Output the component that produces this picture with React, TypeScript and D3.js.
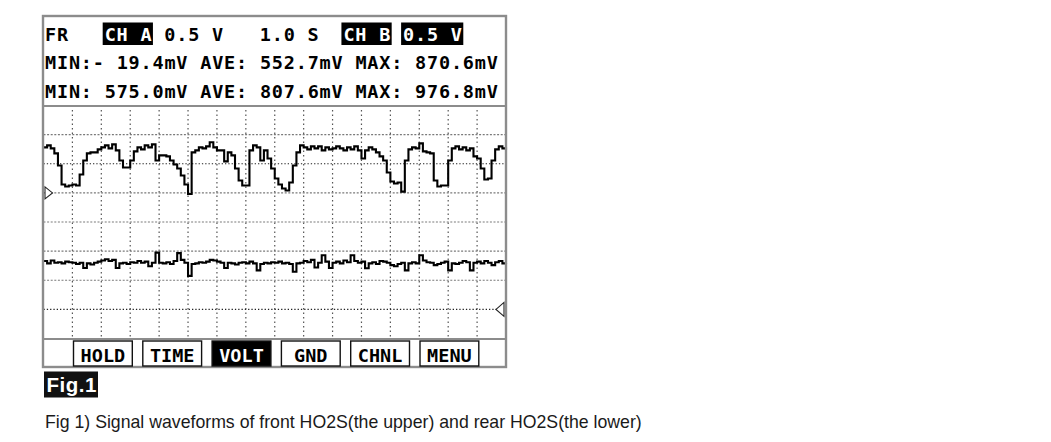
import React from "react";
import * as d3 from "d3";

// ---- Text content ----
const HEADER_ROWS = [
  "FR   CH A 0.5 V   1.0 S  CH B 0.5 V",
  "MIN:- 19.4mV AVE: 552.7mV MAX: 870.6mV",
  "MIN: 575.0mV AVE: 807.6mV MAX: 976.8mV",
];
// highlighted (inverted) segments of row 1: [start char, length]
const HIGHLIGHTS: [number, number][] = [
  [5, 4],
  [25, 4],
  [30, 5],
];
const BUTTONS = ["HOLD", "TIME", "VOLT", "GND", "CHNL", "MENU"];
const ACTIVE_BUTTON = "VOLT";
const FIG_LABEL = "Fig.1";
const CAPTION =
  "Fig 1) Signal waveforms of front HO2S(the upper) and rear HO2S(the lower)";

// ---- Scope settings ----
const TIME_PER_DIV_S = 1.0;
const DIVS_X = 16;
const DIVS_Y = 8;
const MV_PER_DIV = 500;
const CH_A_GROUND_DIV = 3; // divisions from the top
const CH_B_GROUND_DIV = 7;
const SAMPLE_S = 0.125;

// ---- Channel A (front HO2S), mV ----
const CH_A_MV = [
  781, 815, 764, 678, 470, 143, 109, 126, 143, 126, 315, 557, 678, 695, 695, 746,
  781, 815, 764, 833, 729, 557, 436, 436, 557, 712, 781, 746, 815, 781, 833, 557,
  643, 643, 626, 557, 488, 419, 298, 143, -19, 695, 729, 781, 764, 798, 870, 781,
  729, 729, 540, 695, 643, 419, 212, 126, 126, 729, 815, 781, 557, 729, 591, 419,
  247, 143, 74, 40, 178, 470, 695, 815, 781, 746, 798, 764, 798, 729, 781, 746,
  764, 798, 764, 729, 781, 746, 798, 729, 591, 729, 781, 746, 695, 626, 557, 350,
  195, 160, 178, 22, 557, 746, 781, 764, 850, 712, 695, 678, 212, 109, 126, 126,
  557, 764, 798, 746, 781, 729, 764, 626, 591, 419, 229, 247, 557, 746, 798, 764,
  729,
];

// ---- Channel B (rear HO2S), mV ----
const CH_B_MV = [
  830, 790, 840, 800, 810, 790, 820, 810, 800, 780, 800, 710, 790, 770, 800, 820,
  840, 860, 830, 850, 710, 790, 800, 780, 810, 800, 830, 800, 820, 740, 800, 975,
  800, 790, 810, 780, 830, 965, 850, 800, 575, 780, 790, 810, 800, 820, 850, 840,
  820, 800, 710, 800, 790, 770, 800, 810, 790, 820, 790, 670, 780, 800, 790, 810,
  800, 820, 790, 800, 780, 645, 790, 800, 830, 810, 850, 720, 800, 930, 820, 710,
  800, 820, 790, 840, 810, 930, 830, 800, 820, 705, 790, 810, 780, 830, 820, 800,
  760, 740, 780, 800, 670, 790, 810, 790, 930, 840, 810, 800, 760, 780, 800, 820,
  670, 790, 780, 800, 830, 810, 670, 800, 820, 790, 830, 800, 760, 810, 830, 790,
  800,
];

// ---- Layout ----
const W = 1051;
const H = 442;
const FRAME = { left: 43, right: 506, top: 16, bottom: 367 };
const PLOT = { left: 43.5, right: 506, top: 105.5, bottom: 338.5 };
const HEADER_X = 45;
const HEADER_BASELINES = [41, 69, 97.5];
const HDR_FONT = 18.5;
const HDR_LS = 0.8;
const CW = HDR_FONT * 0.602 + HDR_LS;
const MONO = "'DejaVu Sans Mono', 'Liberation Mono', monospace";
const SANS = "'Liberation Sans', Arial, sans-serif";

type Seg = { start: number; text: string; inv: boolean };

function splitRow(row: string, hl: [number, number][]): Seg[] {
  const segs: Seg[] = [];
  let pos = 0;
  const sorted = [...hl].sort((a, b) => a[0] - b[0]);
  for (const [s, n] of sorted) {
    if (s > pos) segs.push({ start: pos, text: row.slice(pos, s), inv: false });
    segs.push({ start: s, text: row.slice(s, s + n), inv: true });
    pos = s + n;
  }
  if (pos < row.length) segs.push({ start: pos, text: row.slice(pos), inv: false });
  return segs;
}

export default function App() {
  const x = d3
    .scaleLinear()
    .domain([0, DIVS_X * TIME_PER_DIV_S])
    .range([PLOT.left, PLOT.right]);
  const yA = d3
    .scaleLinear()
    .domain([
      -(DIVS_Y - CH_A_GROUND_DIV) * MV_PER_DIV,
      CH_A_GROUND_DIV * MV_PER_DIV,
    ])
    .range([PLOT.bottom, PLOT.top]);
  const yB = d3
    .scaleLinear()
    .domain([
      -(DIVS_Y - CH_B_GROUND_DIV) * MV_PER_DIV,
      CH_B_GROUND_DIV * MV_PER_DIV,
    ])
    .range([PLOT.bottom, PLOT.top]);

  const dataA = CH_A_MV.map((v, i) => ({ t: i * SAMPLE_S, v }));
  const dataB = CH_B_MV.map((v, i) => ({ t: i * SAMPLE_S, v }));

  const lineA = d3
    .line<{ t: number; v: number }>()
    .x((d) => x(d.t))
    .y((d) => yA(d.v))
    .curve(d3.curveStepAfter);
  const lineB = d3
    .line<{ t: number; v: number }>()
    .x((d) => x(d.t))
    .y((d) => yB(d.v))
    .curve(d3.curveStepAfter);

  const vTicks = d3.range(1, DIVS_X).map((k) => k * TIME_PER_DIV_S);
  const hDivs = d3.range(1, DIVS_Y);
  const gridY = d3
    .scaleLinear()
    .domain([0, DIVS_Y])
    .range([PLOT.top, PLOT.bottom]);

  const gA = yA(0);
  const gB = yB(0);

  const btnX = d3
    .scaleLinear()
    .domain([0, BUTTONS.length])
    .range([73.5, 73.5 + 69.3 * BUTTONS.length]);
  const btnW = 58.8;

  const row1 = splitRow(HEADER_ROWS[0], HIGHLIGHTS);

  const hdrTextProps = {
    fontFamily: MONO,
    fontWeight: "bold" as const,
    fontSize: HDR_FONT,
    letterSpacing: HDR_LS,
    xmlSpace: "preserve",
    style: { whiteSpace: "pre" as const },
  };

  return (
    <svg
      width={W}
      height={H}
      viewBox={`0 0 ${W} ${H}`}
      style={{ position: "absolute", left: 0, top: 0, background: "#fff" }}
    >
      <rect x={0} y={0} width={W} height={H} fill="#fff" />

      {/* grid */}
      {vTicks.map((t) => (
        <line
          key={"v" + t}
          x1={x(t)}
          x2={x(t)}
          y1={PLOT.top}
          y2={PLOT.bottom}
          stroke="#555"
          strokeWidth={1.2}
          strokeDasharray="1.5 3"
        />
      ))}
      {hDivs.map((k) => {
        const dark = k === 2 || k === 7;
        return (
          <line
            key={"h" + k}
            x1={PLOT.left}
            x2={PLOT.right}
            y1={gridY(k)}
            y2={gridY(k)}
            stroke={dark ? "#222" : "#7a7a7a"}
            strokeWidth={dark ? 1.1 : 1.2}
            strokeDasharray={dark ? "1.3 2" : "2 1.6"}
          />
        );
      })}

      {/* traces */}
      <path d={lineA(dataA) || ""} fill="none" stroke="#000" strokeWidth={2.1} />
      <path d={lineB(dataB) || ""} fill="none" stroke="#000" strokeWidth={2.1} />

      {/* ground markers */}
      <path
        d={`M${PLOT.left + 1.5},${gA - 6} L${PLOT.left + 9},${gA} L${PLOT.left + 1.5},${gA + 6} Z`}
        fill="#fff"
        stroke="#222"
        strokeWidth={1.1}
      />
      <path
        d={`M${PLOT.right - 2},${gB - 7} L${PLOT.right - 10},${gB} L${PLOT.right - 2},${gB + 7} Z`}
        fill="#fff"
        stroke="#222"
        strokeWidth={1.1}
      />

      {/* frame */}
      <line x1={FRAME.left} x2={FRAME.right} y1={106} y2={106} stroke="#8c8c8c" strokeWidth={2} />
      <line x1={FRAME.left} x2={FRAME.right} y1={339} y2={339} stroke="#8c8c8c" strokeWidth={2} />
      <rect
        x={FRAME.left}
        y={FRAME.top}
        width={FRAME.right - FRAME.left}
        height={FRAME.bottom - FRAME.top}
        fill="none"
        stroke="#8c8c8c"
        strokeWidth={2.4}
      />

      {/* header row 1 with inverted segments */}
      {row1.map((seg) => (
        <g key={"r1" + seg.start}>
          {seg.inv && (
            <rect
              x={HEADER_X + seg.start * CW - 2}
              y={22.5}
              width={seg.text.length * CW + 2.5}
              height={22.5}
              fill="#000"
            />
          )}
          <text
            x={HEADER_X + seg.start * CW}
            y={HEADER_BASELINES[0]}
            fill={seg.inv ? "#fff" : "#000"}
            {...hdrTextProps}
          >
            {seg.text}
          </text>
        </g>
      ))}
      {HEADER_ROWS.slice(1).map((row, i) => (
        <text
          key={"row" + i}
          x={HEADER_X}
          y={HEADER_BASELINES[i + 1]}
          fill="#000"
          {...hdrTextProps}
        >
          {row}
        </text>
      ))}

      {/* buttons */}
      {BUTTONS.map((b, i) => {
        const active = b === ACTIVE_BUTTON;
        const bx = btnX(i);
        return (
          <g key={b}>
            <rect
              x={bx}
              y={341}
              width={btnW}
              height={25}
              fill={active ? "#000" : "#fff"}
              stroke="#111"
              strokeWidth={1.4}
            />
            <text
              x={bx + btnW / 2}
              y={361.5}
              textAnchor="middle"
              fontFamily={MONO}
              fontWeight="bold"
              fontSize={18.5}
              fill={active ? "#fff" : "#000"}
            >
              {b}
            </text>
          </g>
        );
      })}

      {/* figure label */}
      <rect x={44} y={371.5} width={54} height={26} fill="#111" />
      <text
        x={46.5}
        y={391.5}
        fontFamily={SANS}
        fontWeight="bold"
        fontSize={20.5}
        letterSpacing={0.5}
        fill="#fff"
      >
        {FIG_LABEL}
      </text>

      {/* caption */}
      <text x={45} y={428} fontFamily={SANS} fontSize={17.7} fill="#1a1a1a">
        {CAPTION}
      </text>
    </svg>
  );
}
